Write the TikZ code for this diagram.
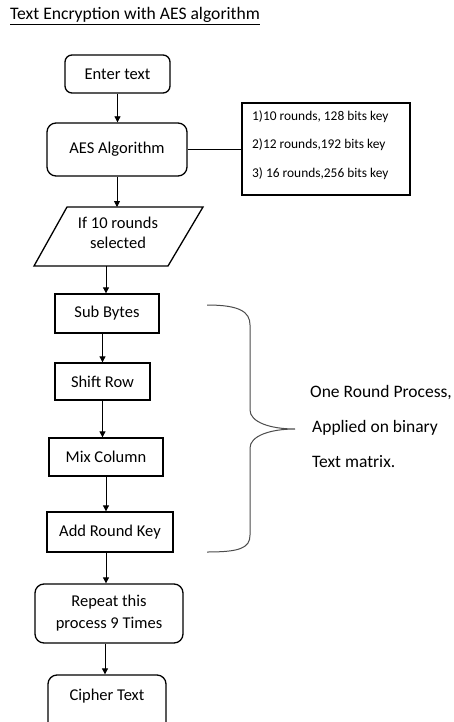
\documentclass[tikz,border=0pt]{standalone}
\usepackage{fontspec}
\setmainfont{Carlito}
\usetikzlibrary{arrows.meta}
\begin{document}
\begin{tikzpicture}[x=1pt,y=-1pt,
  box/.style={draw=black,line width=1.3pt,inner sep=0pt,align=center,font=\fontsize{16.5}{21}\selectfont},
  rbox/.style={box,rounded corners=7pt},
  arr/.style={draw=black,line width=0.8pt,-{Triangle[length=6pt,width=6pt]}},
  keytxt/.style={anchor=west,inner sep=0pt,font=\fontsize{13.4}{15}\selectfont},
  sidetxt/.style={anchor=west,inner sep=0pt,font=\fontsize{17.5}{21}\selectfont},
  brace/.style={draw=black!70,line width=1pt}]
\clip (0,0) rectangle (453,722);
\useasboundingbox (0,0) rectangle (453,722);
\fill[white] (0,0) rectangle (453,722);

\node[anchor=west,inner sep=0pt,font=\fontsize{17.6}{20}\selectfont] (title) at (10,16) {\underline{Text Encryption with AES algorithm}};

\node[rbox,minimum width=105pt,minimum height=38pt] (enter) at (117.5,74) {Enter text};
\node[rbox,rounded corners=9pt,minimum width=140pt,minimum height=53pt] (aes) at (117,149.5) {AES Algorithm};

\node[draw=black,line width=1.3pt,minimum width=168pt,minimum height=92pt,inner sep=0pt] (keys) at (326,149) {};
\node[keytxt] (k1) at (252,117) {1)10 rounds, 128 bits key};
\node[keytxt] (k2) at (252,145) {2)12 rounds,192 bits key};
\node[keytxt] (k3) at (252,174) {3) 16 rounds,256 bits key};

\draw[line width=1.3pt] (67,207) -- (203,207) -- (168,266) -- (34,266) -- cycle;
\coordinate (selT) at (117,207);
\coordinate (selB) at (106,266);
\node[align=center,inner sep=0pt,font=\fontsize{16.5}{20}\selectfont] (sel) at (118,233) {If 10 rounds\\selected};

\node[box,minimum width=104pt,minimum height=39pt] (sub) at (107,313.5) {Sub Bytes};
\node[box,minimum width=95pt,minimum height=37pt] (shift) at (102.5,381.5) {Shift Row};
\node[box,minimum width=114pt,minimum height=38pt] (mix) at (106,457) {Mix Column};
\node[box,minimum width=126pt,minimum height=40pt] (add) at (110,532) {Add Round Key};
\node[rbox,rounded corners=9pt,minimum width=148pt,minimum height=59pt,font=\fontsize{16.5}{22}\selectfont] (rep) at (109,613.5) {Repeat this\\process 9 Times};
\node[rbox,rounded corners=9pt,minimum width=118pt,minimum height=70pt,text depth=30pt] (ciph) at (107,710) {Cipher Text};

\draw[arr] (enter.south) -- (enter.south |- aes.north);
\draw[line width=0.8pt] (aes.east) -- (aes.east -| keys.west);
\draw[arr] (aes.south) -- (selT);
\draw[arr] (selB) -- (selB |- sub.north);
\draw[arr] (sub.south -| shift.north) -- (shift.north);
\draw[arr] (shift.south) -- (shift.south |- mix.north);
\draw[arr] (mix.south) -- (mix.south |- add.north);
\draw[arr] (add.south -| mix.south) -- (mix.south |- rep.north);
\draw[arr] (rep.south -| 105,0) -- (ciph.north -| 105,0);

\draw[brace] (207,305) .. controls (240,305) and (250,312) .. (250,325) -- (250,410)
  .. controls (250,422) and (270,429) .. (295,429)
  .. controls (270,429) and (250,436) .. (250,448) -- (250,535)
  .. controls (250,548) and (240,552) .. (207,552);
\coordinate (tip) at (295,429);

\node[sidetxt] (s1) at (310,393) {One Round Process,};
\node[sidetxt] (s2) at (312,428) {Applied on binary};
\node[sidetxt] (s3) at (312,462) {Text matrix.};
\end{tikzpicture}
\end{document}
